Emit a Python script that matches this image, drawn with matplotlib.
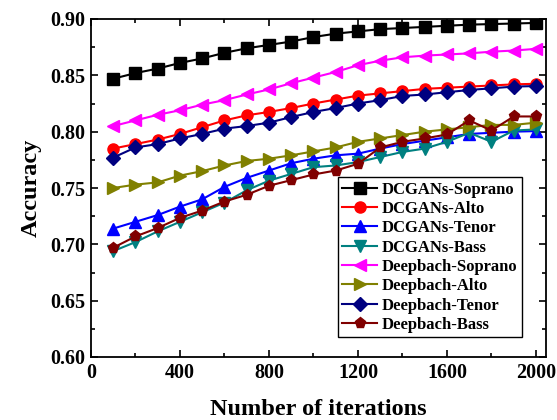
import matplotlib
matplotlib.use("Agg")
import matplotlib.pyplot as plt
from matplotlib.ticker import MultipleLocator

plt.rcParams['font.family'] = ['Liberation Serif', 'DejaVu Serif']
plt.rcParams['font.weight'] = 'bold'

iterations = [100, 200, 300, 400, 500, 600, 700, 800, 900, 1000,
              1100, 1200, 1300, 1400, 1500, 1600, 1700, 1800, 1900, 2000]

dcgans_soprano = [0.847, 0.852, 0.856, 0.861, 0.865, 0.870, 0.874, 0.877, 0.880, 0.884,
                  0.887, 0.889, 0.891, 0.892, 0.893, 0.894, 0.895, 0.8955, 0.896, 0.8965]
dcgans_alto = [0.785, 0.789, 0.793, 0.798, 0.804, 0.810, 0.8145, 0.8175, 0.821, 0.825,
               0.8285, 0.832, 0.834, 0.836, 0.838, 0.839, 0.840, 0.841, 0.842, 0.8425]
dcgans_tenor = [0.714, 0.720, 0.726, 0.7335, 0.740, 0.751, 0.759, 0.7655, 0.772, 0.776,
                0.779, 0.7805, 0.785, 0.789, 0.792, 0.795, 0.798, 0.799, 0.800, 0.8005]
dcgans_bass = [0.694, 0.702, 0.7115, 0.720, 0.7285, 0.737, 0.748, 0.7565, 0.7625, 0.7685,
               0.770, 0.773, 0.7775, 0.782, 0.785, 0.791, 0.799, 0.791, 0.801, 0.802]
deepbach_soprano = [0.805, 0.810, 0.815, 0.819, 0.824, 0.828, 0.833, 0.8375, 0.843, 0.848,
                    0.853, 0.859, 0.863, 0.866, 0.8675, 0.8685, 0.8695, 0.871, 0.872, 0.8735]
deepbach_alto = [0.750, 0.753, 0.755, 0.761, 0.765, 0.770, 0.774, 0.776, 0.779, 0.7825,
                 0.786, 0.791, 0.794, 0.797, 0.800, 0.802, 0.804, 0.806, 0.806, 0.808]
deepbach_tenor = [0.777, 0.786, 0.789, 0.794, 0.798, 0.8027, 0.805, 0.808, 0.813, 0.8175,
                  0.821, 0.825, 0.828, 0.8317, 0.833, 0.835, 0.837, 0.8385, 0.840, 0.8405]
deepbach_bass = [0.697, 0.707, 0.7145, 0.7235, 0.730, 0.738, 0.744, 0.752, 0.757, 0.762,
                 0.7655, 0.7715, 0.786, 0.791, 0.794, 0.7975, 0.810, 0.801, 0.8135, 0.8135]

series = [
    ("DCGANs-Soprano", dcgans_soprano, "black", "s"),
    ("DCGANs-Alto", dcgans_alto, "red", "o"),
    ("DCGANs-Tenor", dcgans_tenor, "blue", "^"),
    ("DCGANs-Bass", dcgans_bass, "#008080", "v"),
    ("Deepbach-Soprano", deepbach_soprano, "magenta", "<"),
    ("Deepbach-Alto", deepbach_alto, "#808000", ">"),
    ("Deepbach-Tenor", deepbach_tenor, "#000080", "D"),
    ("Deepbach-Bass", deepbach_bass, "#800000", "p"),
]

fig = plt.figure(figsize=(5.57, 4.20), dpi=100)
ax = fig.add_axes([91/557, 1 - 357/420, 455/557, 338/420])

for label, vals, color, mk in series:
    ms = 7 if mk in ("D",) else 8
    ax.plot(iterations, vals, color=color, marker=mk, markersize=ms, lw=1.5,
            markeredgecolor=color, markerfacecolor=color, label=label)

ax.set_xlim(0, 2045)
ax.set_ylim(0.60, 0.90)
ax.xaxis.set_major_locator(MultipleLocator(400))
ax.xaxis.set_minor_locator(MultipleLocator(200))
ax.yaxis.set_major_locator(MultipleLocator(0.05))
ax.yaxis.set_minor_locator(MultipleLocator(0.025))
ax.yaxis.set_major_formatter(matplotlib.ticker.FormatStrFormatter('%.2f'))
ax.tick_params(which='both', direction='in', top=True, right=True, width=1.2)
ax.tick_params(which='major', length=5, labelsize=14.5, pad=4)
ax.tick_params(which='minor', length=3)
for lab in ax.get_xticklabels() + ax.get_yticklabels():
    lab.set_fontweight('bold')
for s in ax.spines.values():
    s.set_linewidth(1.3)

ax.set_xlabel("Number of iterations", fontsize=17.5, fontweight='bold', labelpad=12)
ax.set_ylabel("Accuracy", fontsize=17.5, fontweight='bold', labelpad=6)

leg = ax.legend(loc='lower right', bbox_to_anchor=(0.947, 0.059), borderaxespad=0,
                frameon=True, fancybox=False, edgecolor='black', framealpha=1,
                handlelength=2.1, labelspacing=0.2, borderpad=0.25, handletextpad=0.3,
                prop={'weight': 'bold', 'size': 12})
leg.get_frame().set_linewidth(1.0)

fig.savefig("out.png", dpi=100)
